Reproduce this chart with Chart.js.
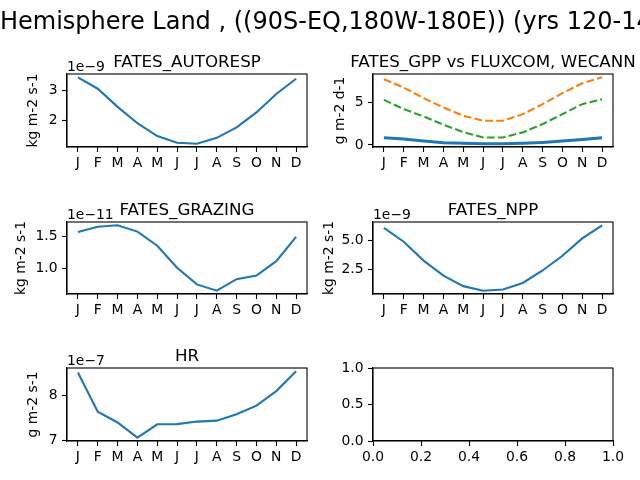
<!DOCTYPE html>
<html>
<head>
<meta charset="utf-8">
<script src="https://cdn.jsdelivr.net/npm/chart.js@4"></script>
<style>
  html, body { margin: 0; padding: 0; background: #fff; }
  #wrap { position: relative; width: 640px; height: 480px; }
  #wrap canvas { position: absolute; left: 0; top: 0; }
</style>
</head>
<body>
<div id="wrap"></div>
<script>
const months = ['J', 'F', 'M', 'A', 'M', 'J', 'J', 'A', 'S', 'O', 'N', 'D'];

// FATES_AUTORESP (x 1e-9 kg m-2 s-1)
const autoresp = [3.46, 3.07, 2.45, 1.89, 1.45, 1.22, 1.19, 1.39, 1.75, 2.26, 2.89, 3.41];
const autorespTicks = [2, 3];
const autorespTickLabels = ['2', '3'];

// FATES_GPP vs FLUXCOM, WECANN (g m-2 d-1)
const gppFates = [0.85, 0.70, 0.47, 0.27, 0.19, 0.15, 0.15, 0.20, 0.30, 0.45, 0.65, 0.85];
const gppFluxcom = [7.67, 6.70, 5.47, 4.37, 3.41, 2.83, 2.83, 3.60, 4.77, 6.05, 7.20, 7.90];
const gppWecann = [5.27, 4.19, 3.33, 2.36, 1.51, 0.88, 0.88, 1.47, 2.44, 3.60, 4.77, 5.35];
const gppTicks = [0, 5];
const gppTickLabels = ['0', '5'];

// FATES_GRAZING (x 1e-11 kg m-2 s-1)
const grazing = [1.572, 1.653, 1.675, 1.577, 1.358, 1.016, 0.756, 0.658, 0.837, 0.894, 1.117, 1.495];
const grazingTicks = [1.0, 1.5];
const grazingTickLabels = ['1.0', '1.5'];

// FATES_NPP (x 1e-9 kg m-2 s-1)
const npp = [6.05, 4.88, 3.28, 2.00, 1.11, 0.72, 0.83, 1.38, 2.44, 3.69, 5.17, 6.28];
const nppTicks = [2.5, 5.0];
const nppTickLabels = ['2.5', '5.0'];

// HR (x 1e-7 g m-2 s-1)
const hr = [8.497, 7.636, 7.40, 7.066, 7.36, 7.365, 7.42, 7.44, 7.58, 7.77, 8.09, 8.525];
const hrTicks = [7, 8];
const hrTickLabels = ['7', '8'];

// empty panel
const emptyXTicks = [0, 0.2, 0.4, 0.6, 0.8, 1.0];
const emptyXTickLabels = ['0.0', '0.2', '0.4', '0.6', '0.8', '1.0'];
const emptyYTicks = [0, 0.5, 1.0];
const emptyYTickLabels = ['0.0', '0.5', '1.0'];

const suptitle = 'Hemisphere Land , ((90S-EQ,180W-180E)) (yrs 120-14';

const BLUE = '#1f77b4', ORANGE = '#ff7f0e', GREEN = '#2ca02c';
const FONT = 'DejaVu Sans';
const YW = 50, XH = 30;

function pts(arr) {
  return arr.map((v, i) => ({x: i, y: v}));
}

function limits(series) {
  const all = series.flat();
  const lo = Math.min(...all), hi = Math.max(...all);
  const m = (hi - lo) * 0.05;
  return [lo - m, hi + m];
}

function labelFor(ticks, labels, v) {
  let best = 0;
  ticks.forEach((t, i) => { if (Math.abs(t - v) < Math.abs(ticks[best] - v)) best = i; });
  return Math.abs(ticks[best] - v) < 1e-6 ? labels[best] : '';
}

const framePlugin = {
  id: 'frame',
  afterDraw(chart) {
    const o = chart.options.plugins.frame;
    const a = chart.chartArea;
    const ctx = chart.ctx;
    ctx.save();
    ctx.strokeStyle = '#000';
    ctx.lineWidth = 1.1;
    ctx.strokeRect(a.left, a.top, a.right - a.left, a.bottom - a.top);
    ctx.fillStyle = '#000';
    if (o.title) {
      ctx.font = '16.7px "' + FONT + '"';
      ctx.textAlign = 'center';
      ctx.textBaseline = 'alphabetic';
      ctx.fillText(o.title, (a.left + a.right) / 2, a.top - 7);
    }
    if (o.offset) {
      ctx.font = '13.9px "' + FONT + '"';
      ctx.textAlign = 'left';
      ctx.textBaseline = 'alphabetic';
      ctx.fillText(o.offset, a.left, a.top - 3);
    }
    if (o.ylabel) {
      ctx.font = '13.9px "' + FONT + '"';
      ctx.translate(o.ylabelX, (a.top + a.bottom) / 2);
      ctx.rotate(-Math.PI / 2);
      ctx.textAlign = 'center';
      ctx.textBaseline = 'middle';
      ctx.fillText(o.ylabel, 0, 0);
    }
    ctx.restore();
    if (o.suptitle) {
      ctx.save();
      ctx.fillStyle = '#000';
      ctx.font = '24px "' + FONT + '"';
      ctx.textAlign = 'left';
      ctx.textBaseline = 'alphabetic';
      ctx.fillText(o.suptitle, 0, 29);
      ctx.restore();
    }
  }
};

function makePanel(box, datasets, opts) {
  const canvas = document.createElement('canvas');
  canvas.width = 640;
  canvas.height = 480;
  document.getElementById('wrap').appendChild(canvas);

  const [L, T, R, B] = box;
  const grid = {drawOnChartArea: false, drawTicks: true, tickLength: 5, tickColor: '#000', tickWidth: 1.1};
  const border = {display: true, color: '#000', width: 1.1};
  const tickFont = {family: FONT, size: 13.9};

  const xTicks = opts.months ? months.map((m, i) => i) : emptyXTicks;
  const xLabels = opts.months ? months : emptyXTickLabels;
  const x = {
    type: 'linear',
    min: opts.months ? -0.55 : 0,
    max: opts.months ? 11.55 : 1,
    grid: grid, border: border,
    afterBuildTicks: (s) => { s.ticks = xTicks.map(v => ({value: v})); },
    ticks: {color: '#000', font: tickFont, padding: 3, maxRotation: 0, autoSkip: false,
      callback: (v) => labelFor(xTicks, xLabels, v)},
    afterFit: (s) => { s.height = XH; },
  };

  const y = {
    type: 'linear', min: opts.ylim[0], max: opts.ylim[1],
    grid: grid, border: border,
    afterBuildTicks: (s) => { s.ticks = opts.yTicks.map(v => ({value: v})); },
    ticks: {color: '#000', font: tickFont, padding: 4.5, autoSkip: false,
      callback: (v) => labelFor(opts.yTicks, opts.yTickLabels, v)},
    afterFit: (s) => { s.width = YW; },
  };

  return new Chart(canvas.getContext('2d'), {
    type: 'line',
    data: {datasets: datasets},
    options: {
      responsive: false,
      animation: false,
      events: [],
      layout: {padding: {left: L - YW, top: T, right: 640 - R, bottom: 480 - B - XH}},
      scales: {x: x, y: y},
      elements: {point: {radius: 0}, line: {tension: 0}},
      plugins: {
        legend: {display: false},
        tooltip: {enabled: false},
        frame: opts.frame,
      },
    },
    plugins: [framePlugin],
  });
}

function line(arr, color, dashed, width) {
  return {
    data: pts(arr),
    borderColor: color,
    borderWidth: width || 2.1,
    borderDash: dashed ? [7.7, 3.3] : [],
    fill: false,
    pointRadius: 0,
  };
}

makePanel([67, 74, 307, 147], [line(autoresp, BLUE)], {
  months: true, ylim: limits([autoresp]), yTicks: autorespTicks, yTickLabels: autorespTickLabels,
  frame: {title: 'FATES_AUTORESP', offset: '1e\u22129', ylabel: 'kg m-2 s-1', ylabelX: 33, suptitle: suptitle},
});

makePanel([373, 74, 613, 147], [
  line(gppFates, BLUE, false, 3),
  line(gppFluxcom, ORANGE, true),
  line(gppWecann, GREEN, true),
], {
  months: true, ylim: limits([gppFates, gppFluxcom, gppWecann]), yTicks: gppTicks, yTickLabels: gppTickLabels,
  frame: {title: 'FATES_GPP vs FLUXCOM, WECANN', ylabel: 'g m-2 d-1', ylabelX: 340},
});

makePanel([67, 222, 307, 294], [line(grazing, BLUE)], {
  months: true, ylim: limits([grazing]), yTicks: grazingTicks, yTickLabels: grazingTickLabels,
  frame: {title: 'FATES_GRAZING', offset: '1e\u221211', ylabel: 'kg m-2 s-1', ylabelX: 21},
});

makePanel([373, 222, 613, 294], [line(npp, BLUE)], {
  months: true, ylim: limits([npp]), yTicks: nppTicks, yTickLabels: nppTickLabels,
  frame: {title: 'FATES_NPP', offset: '1e\u22129', ylabel: 'kg m-2 s-1', ylabelX: 329},
});

makePanel([67, 368, 307, 441], [line(hr, BLUE)], {
  months: true, ylim: limits([hr]), yTicks: hrTicks, yTickLabels: hrTickLabels,
  frame: {title: 'HR', offset: '1e\u22127', ylabel: 'g m-2 s-1', ylabelX: 33},
});

makePanel([373, 368, 613, 441], [], {
  months: false, ylim: [0, 1], yTicks: emptyYTicks, yTickLabels: emptyYTickLabels,
  frame: {},
});
</script>
</body>
</html>
